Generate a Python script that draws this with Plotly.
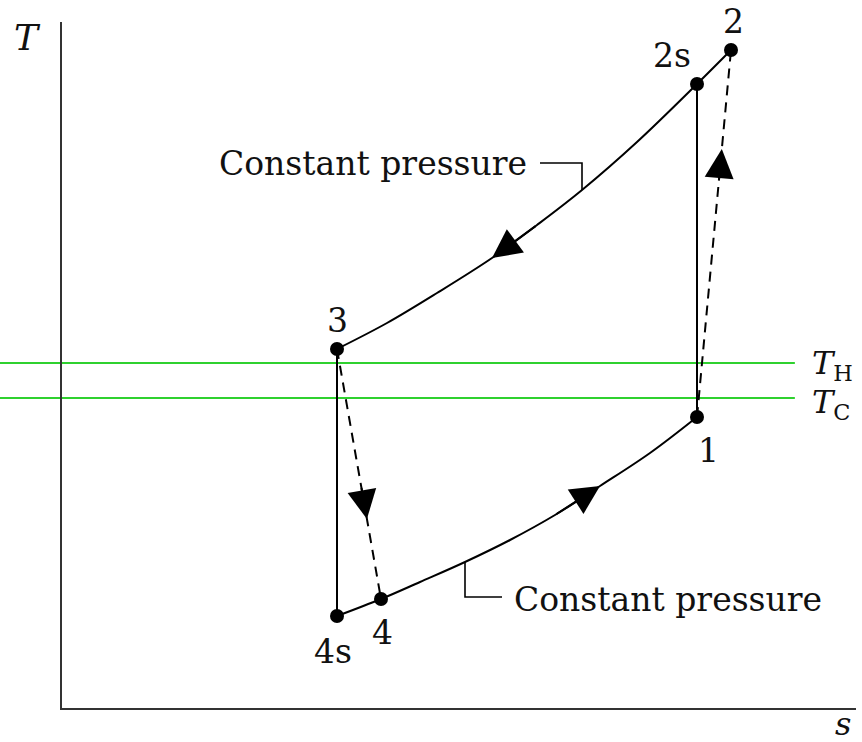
import plotly.graph_objects as go

# ---- data (arbitrary s, T units) ----
state_labels = ["1", "2s", "2", "3", "4s", "4"]
state_s = [635, 635, 669, 275, 275, 319]
state_T = [291, 624, 658, 359, 92, 109]

# upper constant-pressure curve 3 -> 2s -> 2
upper_s = [275, 325, 375, 430, 475, 520, 575, 635, 669]
upper_T = [359, 385, 415, 450, 483, 518, 566, 624, 658]
# lower constant-pressure curve 4s -> 4 -> 1
lower_s = [275, 319, 358, 403, 448, 493, 538, 588, 635]
lower_T = [92, 109, 126, 146, 168, 193, 222, 255, 291]

T_H = 345
T_C = 310

P = dict(zip(state_labels, zip(state_s, state_T)))

FONT = "DejaVu Serif"
FS = 33
TXT = "#111111"

fig = go.Figure()

# constant pressure curves
for xs, ys in [(upper_s, upper_T), (lower_s, lower_T)]:
    fig.add_trace(go.Scatter(x=xs, y=ys, mode="lines",
                             line=dict(color="black", width=2, shape="spline", smoothing=1.0),
                             hoverinfo="skip"))
# isentropic (ideal) processes
for a, b in [("2s", "1"), ("3", "4s")]:
    fig.add_trace(go.Scatter(x=[P[a][0], P[b][0]], y=[P[a][1], P[b][1]], mode="lines",
                             line=dict(color="black", width=2), hoverinfo="skip"))
# actual processes (dashed)
for a, b in [("1", "2"), ("3", "4")]:
    fig.add_trace(go.Scatter(x=[P[a][0], P[b][0]], y=[P[a][1], P[b][1]], mode="lines",
                             line=dict(color="black", width=2, dash="10px,7px"), hoverinfo="skip"))
# state points
fig.add_trace(go.Scatter(x=state_s, y=state_T, mode="markers",
                         marker=dict(color="black", size=14), hoverinfo="skip"))

# green temperature lines
for T in (T_H, T_C):
    fig.add_shape(type="line", xref="paper", yref="y", x0=-0.08, x1=0.923, y0=T, y1=T,
                  line=dict(color="#2fd12f", width=2), layer="below")

# state labels
label_shift = {"1": (11, -33), "2s": (-25, 29), "2": (2, 29),
               "3": (0, 29), "4s": (-4, -35), "4": (1, -33)}
for lab in state_labels:
    dx, dy = label_shift[lab]
    fig.add_annotation(x=P[lab][0], y=P[lab][1], text=lab, showarrow=False,
                       xshift=dx, yshift=dy, font=dict(family=FONT, size=FS, color=TXT))

# T_H / T_C labels
for T, sub, ys in [(T_H, "H", -2), (T_C, "C", -6)]:
    fig.add_annotation(xref="paper", yref="y", x=0.942, y=T, xanchor="left", yanchor="middle",
                       text="<i>T</i><sub>%s</sub>" % sub, showarrow=False, yshift=ys,
                       font=dict(family=FONT, size=32, color=TXT))

# direction arrows
def along(a, b, t):
    return (P[a][0] + t * (P[b][0] - P[a][0]), P[a][1] + t * (P[b][1] - P[a][1]))

arrows = [
    ((upper_s[3], upper_T[3]), (upper_s[4], upper_T[4])),
    ((lower_s[6], lower_T[6]), (lower_s[5], lower_T[5])),
    (along("3", "4", 0.68), along("3", "4", 0.55)),
    (along("1", "2", 0.73), along("1", "2", 0.64)),
]
for tip, tail in arrows:
    fig.add_annotation(x=tip[0], y=tip[1], ax=tail[0], ay=tail[1], axref="x", ayref="y",
                       xref="x", yref="y", text="", showarrow=True, arrowhead=2,
                       arrowsize=2.9, arrowwidth=2, arrowcolor="black", standoff=0)

# "Constant pressure" leaders
ua = (upper_s[5], upper_T[5])
fig.add_shape(type="path", xref="x", yref="y",
              path="M %g %g L %g %g L %g %g" % (ua[0], ua[1], ua[0], ua[1] + 27, ua[0] - 42, ua[1] + 27),
              line=dict(color="black", width=1.6))
fig.add_annotation(x=ua[0] - 53, y=ua[1] + 27, xanchor="right", yanchor="middle",
                   text="Constant pressure", showarrow=False,
                   font=dict(family=FONT, size=FS, color=TXT))
la = (lower_s[3], lower_T[3])
fig.add_shape(type="path", xref="x", yref="y",
              path="M %g %g L %g %g L %g %g" % (la[0], la[1], la[0], la[1] - 35, la[0] + 37, la[1] - 35),
              line=dict(color="black", width=1.6))
fig.add_annotation(x=la[0] + 47, y=la[1] - 37, xanchor="left", yanchor="middle",
                   text="Constant pressure", showarrow=False,
                   font=dict(family=FONT, size=FS, color=TXT))

# axis titles
fig.add_annotation(xref="paper", yref="paper", x=-0.044, y=0.978, xanchor="center",
                   yanchor="middle", text="<i>T</i>", showarrow=False,
                   font=dict(family=FONT, size=36, color=TXT))
fig.add_annotation(xref="paper", yref="paper", x=0.984, y=-0.024, xanchor="center",
                   yanchor="middle", text="<i>s</i>", showarrow=False, height=26,
                   font=dict(family=FONT, size=32, color=TXT))

axis_common = dict(showline=True, linecolor="#333333", linewidth=2, showgrid=False,
                   zeroline=False, showticklabels=False, ticks="", fixedrange=True)
fig.update_layout(
    width=862, height=742,
    margin=dict(l=62, r=6, t=22, b=34),
    paper_bgcolor="white", plot_bgcolor="white",
    showlegend=False,
    xaxis=dict(range=[0, 794], **axis_common),
    yaxis=dict(range=[0, 686], **axis_common),
)

fig.write_html("out.html", config={"displayModeBar": False},
               post_script="document.body.style.margin='0';")
